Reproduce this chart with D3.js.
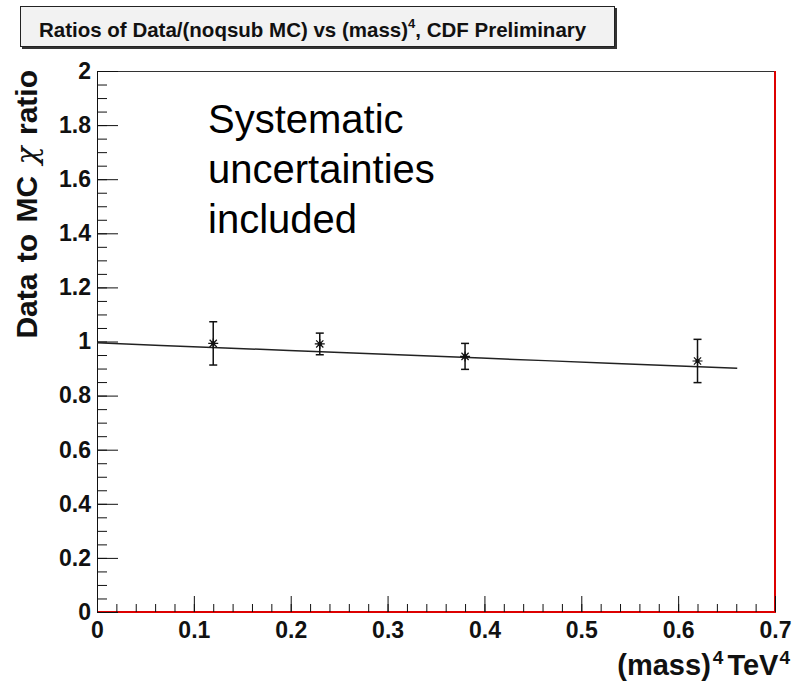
<!DOCTYPE html>
<html>
<head>
<meta charset="utf-8">
<script src="https://cdn.jsdelivr.net/npm/d3@7"></script>
<style>
  body { margin: 0; background: #fff; }
  text { font-family: "Liberation Sans", Arial, sans-serif; }
</style>
</head>
<body>
<div class="chart"></div>
<script>
// data
var massVals = [0.12, 0.23, 0.38, 0.62];
var ratioVals = [0.993, 0.991, 0.945, 0.928];
var errVals = [0.08, 0.04, 0.048, 0.08];

// linear fit: ratio = p0 + p1 * mass
var fitParams = [0.995, -0.142];
var fitRange = [0, 0.661];

var xMajorTicks = [0, 0.1, 0.2, 0.3, 0.4, 0.5, 0.6, 0.7];
var yMajorTicks = [0, 0.2, 0.4, 0.6, 0.8, 1, 1.2, 1.4, 1.6, 1.8, 2];
var xMinorTicks = d3.range(0, 71, 2).map(d => d / 100);
var yMinorTicks = d3.range(0, 41).map(d => d / 20);

var svgWidth = 798;
var svgHeight = 682;

var margin = { top: 71, right: 23, bottom: 70, left: 97 };
var width = svgWidth - margin.left - margin.right;
var height = svgHeight - margin.top - margin.bottom;

var svg = d3.select(".chart")
  .append("svg")
  .attr("width", svgWidth)
  .attr("height", svgHeight);

// title box
svg.append("rect")
  .attr("x", 22).attr("y", 8)
  .attr("width", 595).attr("height", 41)
  .attr("fill", "#333");
svg.append("rect")
  .attr("x", 20.5).attr("y", 6.5)
  .attr("width", 594).attr("height", 40)
  .attr("fill", "#f2f2f2")
  .attr("stroke", "#222")
  .attr("stroke-width", 1);

var title = svg.append("text")
  .attr("x", 39).attr("y", 37)
  .attr("font-size", 20.5)
  .attr("font-weight", "bold")
  .attr("fill", "#111");
title.append("tspan").text("Ratios of Data/(noqsub MC) vs (mass)");
title.append("tspan").attr("font-size", 13).attr("dy", -9).text("4");
title.append("tspan").attr("dy", 9).text(", CDF Preliminary");

var chartGroup = svg.append("g")
  .attr("transform", `translate(${margin.left}, ${margin.top})`);

var xScale = d3.scaleLinear().domain([0, 0.7]).range([0, width]);
var yScale = d3.scaleLinear().domain([0, 2]).range([height, 0]);

// frame: top grey, right and bottom red
chartGroup.append("line")
  .attr("x1", 0).attr("x2", width).attr("y1", 0.5).attr("y2", 0.5)
  .attr("stroke", "#333").attr("stroke-width", 1);
chartGroup.append("line")
  .attr("x1", width).attr("x2", width).attr("y1", 0).attr("y2", height)
  .attr("stroke", "#d00").attr("stroke-width", 2);
chartGroup.append("line")
  .attr("x1", 0).attr("x2", width + 1).attr("y1", height).attr("y2", height)
  .attr("stroke", "#d00").attr("stroke-width", 2);
chartGroup.append("line")
  .attr("x1", 0.5).attr("x2", 0.5).attr("y1", 0).attr("y2", height)
  .attr("stroke", "#111").attr("stroke-width", 1);

// axes (ticks pointing inward, like ROOT)
var tickFont = function (g) {
  g.select(".domain").remove();
  g.selectAll("line").attr("stroke", "#111");
  g.selectAll("text")
    .attr("font-family", "Liberation Sans, Arial, sans-serif")
    .attr("font-size", 23)
    .attr("font-weight", "bold")
    .attr("fill", "#111");
};

chartGroup.append("g")
  .attr("transform", `translate(0, ${height})`)
  .call(d3.axisBottom(xScale).tickValues(xMinorTicks).tickSize(-8).tickFormat(""))
  .call(tickFont);
chartGroup.append("g")
  .attr("transform", `translate(0, ${height})`)
  .call(d3.axisBottom(xScale).tickValues(xMajorTicks).tickSize(-16).tickPadding(10)
    .tickFormat(d => d === 0 ? "0" : d3.format(".1f")(d)))
  .call(tickFont);

chartGroup.append("g")
  .call(d3.axisLeft(yScale).tickValues(yMinorTicks).tickSize(-10).tickFormat(""))
  .call(tickFont);
chartGroup.append("g")
  .call(d3.axisLeft(yScale).tickValues(yMajorTicks).tickSize(-21).tickPadding(6)
    .tickFormat(d => d % 1 === 0 ? d3.format("d")(d) : d3.format(".1f")(d)))
  .call(tickFont);

// fit line
var fitX = d3.range(0, 11).map(i => fitRange[0] + (fitRange[1] - fitRange[0]) * i / 10);
var fitLine = d3.line()
  .x(d => xScale(d))
  .y(d => yScale(fitParams[0] + fitParams[1] * d));
chartGroup.append("path")
  .datum(fitX)
  .attr("d", fitLine)
  .attr("fill", "none")
  .attr("stroke", "#222")
  .attr("stroke-width", 1.5);

var points = massVals.map((m, i) => ({ x: m, y: ratioVals[i], e: errVals[i] }));

// error bars
var errGroup = chartGroup.selectAll(".err")
  .data(points)
  .enter()
  .append("g")
  .attr("class", "err")
  .attr("stroke", "#111")
  .attr("stroke-width", 1.5);
errGroup.append("line")
  .attr("x1", d => xScale(d.x)).attr("x2", d => xScale(d.x))
  .attr("y1", d => yScale(d.y - d.e)).attr("y2", d => yScale(d.y + d.e));
errGroup.append("line")
  .attr("x1", d => xScale(d.x) - 4).attr("x2", d => xScale(d.x) + 4)
  .attr("y1", d => yScale(d.y + d.e)).attr("y2", d => yScale(d.y + d.e));
errGroup.append("line")
  .attr("x1", d => xScale(d.x) - 4).attr("x2", d => xScale(d.x) + 4)
  .attr("y1", d => yScale(d.y - d.e)).attr("y2", d => yScale(d.y - d.e));

// ROOT star marker (+ and x)
var starSymbol = {
  draw: function (ctx, size) {
    var r = Math.sqrt(size) / 2;
    var s = r * 0.72;
    ctx.moveTo(-r, 0); ctx.lineTo(r, 0);
    ctx.moveTo(0, -r); ctx.lineTo(0, r);
    ctx.moveTo(-s, -s); ctx.lineTo(s, s);
    ctx.moveTo(-s, s); ctx.lineTo(s, -s);
  }
};
chartGroup.selectAll(".marker")
  .data(points)
  .enter()
  .append("path")
  .attr("class", "marker")
  .attr("transform", d => `translate(${xScale(d.x)}, ${yScale(d.y)})`)
  .attr("d", d3.symbol().type(starSymbol).size(100))
  .attr("fill", "none")
  .attr("stroke", "#111")
  .attr("stroke-width", 1.2);
chartGroup.selectAll(".dot")
  .data(points)
  .enter()
  .append("circle")
  .attr("cx", d => xScale(d.x))
  .attr("cy", d => yScale(d.y))
  .attr("r", 2.2)
  .attr("fill", "#111");

// annotation
var note = ["Systematic", "uncertainties", "included"];
chartGroup.selectAll(".note")
  .data(note)
  .enter()
  .append("text")
  .attr("x", 111)
  .attr("y", (d, i) => 62 + i * 50)
  .attr("font-size", 40)
  .attr("fill", "#000")
  .text(d => d);

// axis titles
var yTitle = svg.append("text")
  .attr("transform", "translate(37, 70) rotate(-90)")
  .attr("text-anchor", "end")
  .attr("font-size", 30)
  .attr("font-weight", "bold")
  .attr("word-spacing", 3)
  .attr("fill", "#111");
yTitle.append("tspan").text("Data to MC ");
yTitle.append("tspan")
  .attr("font-family", "DejaVu Serif, serif")
  .attr("font-style", "italic")
  .attr("font-weight", "normal")
  .text("χ");
yTitle.append("tspan").text(" ratio");

var xTitle = svg.append("text")
  .attr("x", 790).attr("y", 675)
  .attr("text-anchor", "end")
  .attr("font-size", 29)
  .attr("font-weight", "bold")
  .attr("fill", "#111");
xTitle.append("tspan").text("(mass)");
xTitle.append("tspan").attr("font-size", 19).attr("dx", 2).attr("dy", -11).text("4");
xTitle.append("tspan").attr("dx", 4).attr("dy", 11).text("TeV");
xTitle.append("tspan").attr("font-size", 19).attr("dx", 1).attr("dy", -11).text("4");
</script>
</body>
</html>
